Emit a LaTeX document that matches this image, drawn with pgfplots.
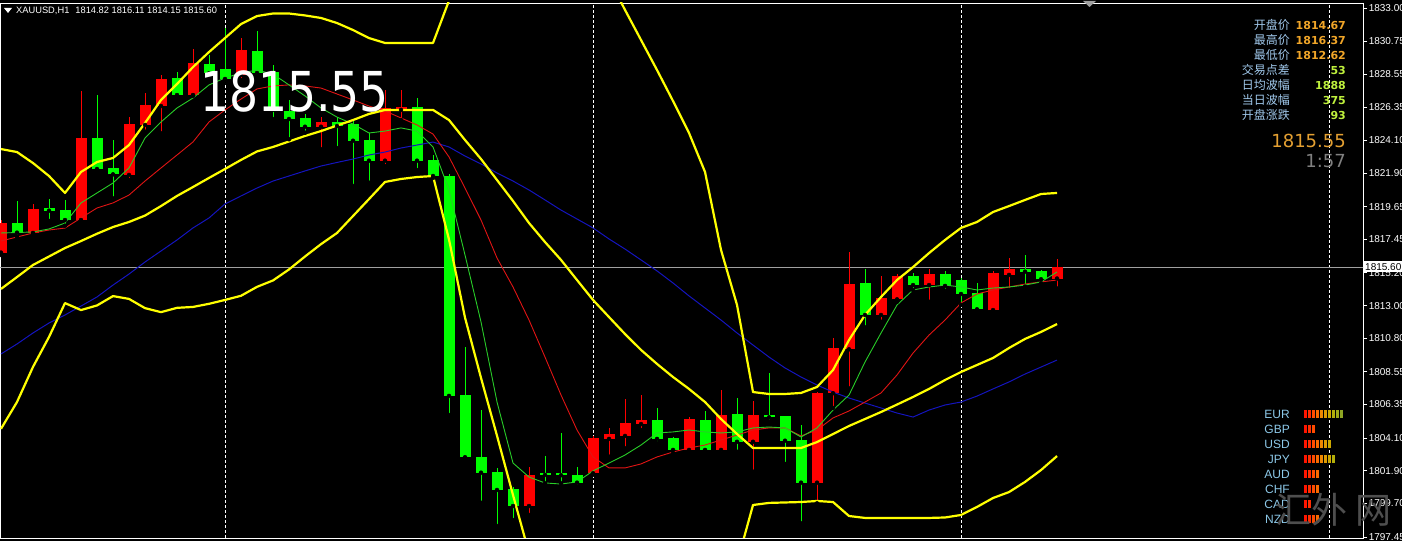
\documentclass[border=0pt]{standalone}
\usepackage{pgfplots}
\pgfplotsset{compat=1.18}
\usepackage{pgfplotstable}
\usepackage{graphicx}
\usepackage{fontspec}
\setmainfont{Liberation Sans}
\newfontfamily\dejavu{DejaVu Sans}
\newfontfamily\cjk{Noto Sans CJK SC}

\definecolor{bbyellow}{RGB}{255,255,0}
\definecolor{maBlue}{RGB}{20,20,190}
\definecolor{maRed}{RGB}{225,20,20}
\definecolor{maGreen}{RGB}{40,205,40}
\definecolor{bullred}{RGB}{255,0,0}
\definecolor{beargreen}{RGB}{0,255,0}
\definecolor{bidgray}{RGB}{160,160,160}
\definecolor{lblblue}{RGB}{160,200,235}
\definecolor{valorange}{RGB}{240,165,40}
\definecolor{valgreen}{RGB}{190,240,60}
\definecolor{bigorange}{RGB}{228,160,50}
\definecolor{clockgray}{RGB}{128,128,128}
\definecolor{ccylabel}{RGB}{140,200,232}
\definecolor{wmgray}{RGB}{78,78,78}

% segment of the currency strength meter
\pgfdeclareplotmark{segbar}{%
  \pgfpathrectangle{\pgfpoint{-1.25pt}{-4pt}}{\pgfpoint{2.5pt}{8pt}}%
  \pgfusepathqfill}

% XAUUSD H1 candles: index, open, high, low, close
\pgfplotstableread{
i  o       h       l       c
0  1816.56 1818.75 1816.40 1818.57
2  1817.88 1819.81 1817.86 1819.49
5  1818.75 1827.42 1818.70 1824.24
8  1821.78 1825.70 1821.44 1825.20
9  1825.14 1827.31 1824.69 1826.48
10 1826.41 1828.50 1824.58 1828.23
12 1827.15 1830.24 1827.10 1829.28
15 1828.50 1830.96 1828.16 1830.18
20 1825.02 1825.70 1823.50 1825.36
24 1822.74 1827.49 1822.38 1826.26
25 1826.15 1827.49 1825.47 1826.37
33 1799.53 1802.17 1798.93 1801.62
37 1801.73 1804.24 1801.62 1804.08
38 1804.04 1804.77 1802.85 1804.37
39 1804.24 1806.72 1803.41 1805.13
40 1805.04 1806.99 1804.64 1805.31
43 1803.30 1805.53 1803.11 1805.36
45 1803.30 1807.33 1803.07 1805.65
47 1803.85 1806.61 1801.84 1805.65
51 1801.10 1807.20 1799.71 1807.15
52 1807.11 1810.84 1806.12 1810.17
53 1810.06 1816.62 1807.44 1814.45
55 1812.37 1814.99 1811.92 1813.53
56 1813.42 1815.12 1813.26 1814.99
58 1814.38 1815.44 1813.26 1815.12
62 1812.70 1815.33 1812.59 1815.21
63 1815.06 1816.18 1814.05 1815.44
66 1814.82 1816.11 1814.15 1815.60
}\bull

\pgfplotstableread{
i  o       h       l       c
1  1818.57 1820.03 1817.63 1817.90
3  1819.54 1820.16 1818.69 1819.38
4  1819.42 1820.10 1818.37 1818.75
6  1824.24 1827.15 1822.00 1822.18
7  1822.27 1824.13 1820.21 1821.82
11 1828.28 1828.72 1827.04 1827.15
13 1829.24 1829.84 1828.50 1828.61
14 1828.90 1831.66 1828.03 1828.23
16 1830.11 1831.47 1828.43 1828.63
17 1828.70 1829.17 1825.54 1826.15
18 1826.10 1826.82 1824.18 1825.54
19 1825.59 1825.88 1824.62 1825.02
21 1825.36 1825.70 1823.59 1825.07
22 1825.20 1825.47 1821.04 1824.08
23 1824.13 1824.60 1821.26 1822.74
26 1826.35 1826.93 1822.11 1822.74
27 1822.79 1823.12 1821.58 1821.71
28 1821.71 1821.84 1805.65 1806.93
29 1806.99 1810.24 1802.76 1802.81
30 1802.85 1805.98 1799.75 1801.77
31 1801.84 1802.09 1798.19 1800.61
32 1800.67 1800.83 1798.59 1799.53
34 1801.73 1802.89 1801.06 1801.62
35 1801.73 1804.46 1801.06 1801.60
36 1801.62 1802.17 1800.83 1801.10
41 1805.31 1806.10 1803.75 1804.04
42 1804.08 1804.17 1803.07 1803.30
44 1805.31 1805.92 1803.23 1803.30
46 1805.72 1806.77 1803.18 1803.85
48 1805.65 1808.45 1805.20 1805.49
49 1805.58 1805.60 1802.36 1803.92
50 1803.97 1804.98 1798.37 1801.10
54 1814.54 1815.44 1811.54 1812.37
57 1814.99 1815.21 1814.05 1814.38
59 1815.12 1815.35 1814.00 1814.32
60 1814.72 1814.85 1813.04 1813.78
61 1813.87 1814.50 1812.66 1812.75
64 1815.44 1816.40 1814.27 1815.28
65 1815.33 1815.39 1814.50 1814.77
}\bear

% Bollinger bands: upper, middle, lower
\pgfplotstableread{
i  up      mid     lo
0  1823.52 1814.12 1804.72
1  1823.32 1814.92 1806.52
2  1822.58 1815.73 1808.88
3  1821.71 1816.30 1810.89
4  1820.57 1816.87 1813.17
5  1821.98 1817.34 1812.70
6  1822.65 1817.83 1813.01
7  1822.92 1818.28 1813.64
8  1823.79 1818.62 1813.45
9  1825.27 1819.05 1812.83
10 1826.82 1819.69 1812.56
11 1827.89 1820.37 1812.85
12 1829.03 1820.97 1812.91
13 1830.04 1821.58 1813.12
14 1830.98 1822.18 1813.38
15 1831.92 1822.79 1813.66
16 1832.46 1823.36 1814.26
17 1832.63 1823.66 1814.69
18 1832.63 1824.03 1815.43
19 1832.50 1824.40 1816.30
20 1832.33 1824.73 1817.13
21 1831.99 1825.10 1817.88
22 1831.52 1825.47 1819.02
23 1830.98 1825.88 1820.16
24 1830.65 1826.15 1821.31
25 1830.65 1826.15 1821.51
26 1830.65 1826.15 1821.64
27 1830.65 1826.15 1821.71
28 1833.50 1825.47 1817.44
29 1836.07 1824.13 1812.19
30 1837.56 1822.85 1808.14
31 1838.63 1821.44 1804.25
32 1839.79 1820.03 1800.27
33 1840.73 1818.55 1796.37
34 1839.77 1817.27 1794.77
35 1838.57 1816.07 1793.57
36 1837.22 1814.72 1792.22
37 1835.88 1813.38 1790.88
38 1834.95 1812.23 1789.51
39 1832.87 1811.09 1789.31
40 1830.85 1810.02 1789.19
41 1828.83 1809.08 1789.33
42 1826.75 1808.20 1789.65
43 1824.60 1807.40 1790.20
44 1821.98 1806.52 1791.06
45 1816.74 1805.38 1794.02
46 1813.04 1804.37 1795.70
47 1807.19 1803.43 1799.60
48 1807.06 1803.43 1799.74
49 1807.06 1803.43 1799.77
50 1807.13 1803.43 1799.80
51 1807.53 1803.83 1799.87
52 1808.67 1804.37 1799.80
53 1810.69 1804.91 1798.86
54 1812.37 1805.38 1798.73
55 1813.58 1805.85 1798.73
56 1814.72 1806.35 1798.73
57 1815.59 1806.86 1798.73
58 1816.53 1807.40 1798.73
59 1817.41 1808.00 1798.76
60 1818.22 1808.54 1798.93
61 1818.62 1809.01 1799.47
62 1819.29 1809.48 1800.07
63 1819.69 1810.15 1800.47
64 1820.10 1810.76 1801.15
65 1820.50 1811.23 1801.95
66 1820.57 1811.76 1802.89
}\bands

% moving averages: slow (blue), medium (red), fast (green)
\pgfplotstableread{
i  blue    red     green
0  1809.75 1817.34 1817.88
1  1810.42 1817.61 1817.91
2  1811.16 1817.88 1817.95
3  1811.83 1818.08 1818.15
4  1812.37 1818.21 1818.55
5  1812.97 1818.89 1819.90
6  1813.58 1819.56 1820.57
7  1814.38 1819.90 1821.24
8  1815.12 1820.43 1822.25
9  1815.93 1821.37 1824.26
10 1816.67 1822.25 1825.34
11 1817.41 1823.12 1826.28
12 1818.22 1824.00 1826.95
13 1818.89 1825.34 1827.83
14 1819.83 1826.15 1828.30
15 1820.37 1826.88 1828.63
16 1820.90 1827.56 1828.83
17 1821.37 1827.76 1828.56
18 1821.71 1827.83 1827.83
19 1822.05 1827.76 1827.09
20 1822.38 1827.62 1826.28
21 1822.62 1827.22 1825.67
22 1822.85 1826.82 1825.20
23 1823.12 1826.41 1824.60
24 1823.32 1826.08 1824.73
25 1823.59 1825.61 1824.94
26 1823.79 1825.14 1824.73
27 1823.99 1824.53 1823.66
28 1823.66 1822.99 1820.77
29 1823.05 1820.90 1816.40
30 1822.52 1818.75 1811.90
31 1821.91 1816.20 1806.52
32 1821.37 1814.25 1802.42
33 1820.77 1812.03 1801.48
34 1820.10 1809.54 1801.08
35 1819.42 1806.99 1801.01
36 1818.82 1804.64 1801.15
37 1818.22 1802.83 1801.89
38 1817.48 1802.09 1802.42
39 1816.80 1802.09 1802.96
40 1816.07 1802.36 1803.63
41 1815.33 1802.83 1804.44
42 1814.52 1803.16 1804.51
43 1813.65 1803.43 1804.64
44 1812.84 1803.63 1804.51
45 1812.03 1803.97 1804.44
46 1811.16 1804.30 1804.51
47 1810.35 1804.64 1804.78
48 1809.54 1804.78 1804.84
49 1808.81 1804.78 1804.78
50 1808.20 1804.24 1804.17
51 1807.66 1804.64 1804.78
52 1807.19 1805.45 1805.98
53 1806.79 1805.92 1806.99
54 1806.45 1806.52 1809.21
55 1806.12 1807.13 1811.16
56 1805.78 1808.34 1813.04
57 1805.51 1809.81 1814.05
58 1805.98 1811.02 1814.25
59 1806.32 1812.03 1814.38
60 1806.52 1813.18 1814.25
61 1806.92 1813.78 1814.05
62 1807.40 1814.05 1814.18
63 1807.87 1814.25 1814.25
64 1808.40 1814.45 1814.38
65 1808.87 1814.59 1814.59
66 1809.34 1814.72 1815.26
}\mas

\begin{document}
\begin{tikzpicture}
\path[use as bounding box] (0pt,0pt) rectangle (1402pt,541pt);
\fill[black] (0pt,0pt) rectangle (1402pt,541pt);

\begin{axis}[
  at={(0pt,3pt)}, anchor=south west,
  scale only axis, width=1363pt, height=535pt,
  xmin=-0.0625, xmax=85.125,
  ymin=1797.382, ymax=1833.336,
  axis line style={white, line width=0.8pt},
  tick align=outside,
  ytick pos=right, yticklabel pos=right,
  ytick={1797.45,1799.70,1801.90,1804.10,1806.35,1808.55,1810.80,1813.00,1815.20,1817.45,1819.65,1821.90,1824.10,1826.35,1828.55,1830.75,1833.00},
  yticklabels={1797.45,1799.70,1801.90,1804.10,1806.35,1808.55,1810.80,1813.00,1815.20,1817.45,1819.65,1821.90,1824.10,1826.35,1828.55,1830.75,1833.00},
  major tick length=4pt,
  y tick style={white, line width=0.8pt},
  yticklabel style={text=white, font=\fontsize{10}{12}\selectfont, inner sep=1.5pt},
  xtick={14,37,60,83}, xticklabels={}, x tick style={draw=none},
  xmajorgrids,
  x grid style={white, line width=0.9pt, dash pattern=on 3pt off 2pt},
  error bars/error mark=none,
]
% bid line
\addplot[bidgray, line width=0.8pt, forget plot] coordinates {(-1,1815.60) (90,1815.60)};

% wicks
\addplot[only marks, mark=none, error bars/.cd, y dir=plus, y explicit,
  error bar style={bullred, line width=1pt}]
  table[x=i, y=l, y error expr=\thisrow{h}-\thisrow{l}] {\bull};
\addplot[only marks, mark=none, error bars/.cd, y dir=plus, y explicit,
  error bar style={beargreen, line width=1pt}]
  table[x=i, y=l, y error expr=\thisrow{h}-\thisrow{l}] {\bear};
% bodies
\addplot[only marks, mark=none, error bars/.cd, y dir=plus, y explicit,
  error bar style={bullred, line width=11pt}]
  table[x=i, y=o, y error expr=\thisrow{c}-\thisrow{o}] {\bull};
\addplot[only marks, mark=none, error bars/.cd, y dir=plus, y explicit,
  error bar style={beargreen, line width=11pt}]
  table[x=i, y=c, y error expr=\thisrow{o}-\thisrow{c}] {\bear};

% indicators
\addplot[maBlue, line width=1pt] table[x=i, y=blue] {\mas};
\addplot[maRed, line width=0.9pt] table[x=i, y=red] {\mas};
\addplot[maGreen, line width=0.9pt] table[x=i, y=green] {\mas};
\addplot[bbyellow, line width=2.2pt, line join=round] table[x=i, y=up] {\bands};
\addplot[bbyellow, line width=2.2pt, line join=round] table[x=i, y=mid] {\bands};
\addplot[bbyellow, line width=2.2pt, line join=round] table[x=i, y=lo] {\bands};
\end{axis}

% currency strength meter
\begin{axis}[
  at={(1303.25pt,14.5pt)}, anchor=south west,
  scale only axis, width=40pt, height=120pt,
  xmin=0.5, xmax=10.5, ymin=-0.5, ymax=7.5, y dir=reverse,
  hide axis, clip=false,
  colormap={strength}{rgb255=(255,20,0) rgb255=(255,45,0) rgb255=(255,75,0) rgb255=(250,105,0) rgb255=(238,135,0) rgb255=(222,155,0) rgb255=(205,168,0) rgb255=(178,174,10) rgb255=(158,170,25) rgb255=(142,165,35)},
  point meta min=1, point meta max=10,
]
\addplot[scatter, only marks, mark=segbar, point meta=x,
  scatter/use mapped color={draw=none, fill=mapped color}] coordinates {
  (1,0) (2,0) (3,0) (4,0) (5,0) (6,0) (7,0) (8,0) (9,0) (10,0)
  (1,1) (2,1) (3,1)
  (1,2) (2,2) (3,2) (4,2) (5,2) (6,2) (7,2)
  (1,3) (2,3) (3,3) (4,3) (5,3) (6,3) (7,3) (8,3)
  (1,4) (2,4) (3,4) (4,4)
  (1,5) (2,5) (3,5) (4,5)
  (1,6) (2,6)
  (1,7) (2,7) (3,7) (4,7)
};
\end{axis}

% header
\fill[white] (4pt,533pt) -- (12pt,533pt) -- (8pt,528pt) -- cycle;
\node[anchor=base west, inner sep=0pt, text=white, font=\fontsize{9.3}{11}\selectfont]
  at (16pt,527pt) {XAUUSD,H1\hspace{6pt}1814.82 1816.11 1814.15 1815.60};
\fill[bidgray] (1083pt,540pt) -- (1096pt,540pt) -- (1089.5pt,534pt) -- cycle;

% large bid price
\node[anchor=base west, inner sep=0pt, text=white, font=\dejavu\fontsize{55}{60}\selectfont]
  at (200pt,429pt) {\scalebox{0.83}[1]{1815.55}};

% quote panel
\begin{scope}[every node/.style={anchor=base east, inner sep=0pt}]
\node[text=lblblue, font=\cjk\fontsize{12}{14}\selectfont] at (1290pt,511.5pt) {开盘价};
\node[text=lblblue, font=\cjk\fontsize{12}{14}\selectfont] at (1290pt,496.5pt) {最高价};
\node[text=lblblue, font=\cjk\fontsize{12}{14}\selectfont] at (1290pt,481pt) {最低价};
\node[text=lblblue, font=\cjk\fontsize{12}{14}\selectfont] at (1290pt,466pt) {交易点差};
\node[text=lblblue, font=\cjk\fontsize{12}{14}\selectfont] at (1290pt,451pt) {日均波幅};
\node[text=lblblue, font=\cjk\fontsize{12}{14}\selectfont] at (1290pt,436pt) {当日波幅};
\node[text=lblblue, font=\cjk\fontsize{12}{14}\selectfont] at (1290pt,421pt) {开盘涨跌};
\node[text=valorange, font=\dejavu\bfseries\fontsize{11}{13}\selectfont] at (1346pt,511.5pt) {1814.67};
\node[text=valorange, font=\dejavu\bfseries\fontsize{11}{13}\selectfont] at (1346pt,496.5pt) {1816.37};
\node[text=valorange, font=\dejavu\bfseries\fontsize{11}{13}\selectfont] at (1346pt,481pt) {1812.62};
\node[text=valgreen, font=\dejavu\bfseries\fontsize{11}{13}\selectfont] at (1346pt,466pt) {53};
\node[text=valgreen, font=\dejavu\bfseries\fontsize{11}{13}\selectfont] at (1346pt,451pt) {1888};
\node[text=valgreen, font=\dejavu\bfseries\fontsize{11}{13}\selectfont] at (1346pt,436pt) {375};
\node[text=valgreen, font=\dejavu\bfseries\fontsize{11}{13}\selectfont] at (1346pt,421pt) {93};
\node[text=bigorange, font=\dejavu\fontsize{18}{20}\selectfont] at (1346pt,393pt) {1815.55};
\node[text=clockgray, font=\dejavu\fontsize{18}{20}\selectfont] at (1346pt,373pt) {1:57};
% currency names
\node[text=ccylabel, font=\fontsize{12}{14}\selectfont] at (1290pt,123pt) {EUR};
\node[text=ccylabel, font=\fontsize{12}{14}\selectfont] at (1290pt,108pt) {GBP};
\node[text=ccylabel, font=\fontsize{12}{14}\selectfont] at (1290pt,93pt) {USD};
\node[text=ccylabel, font=\fontsize{12}{14}\selectfont] at (1290pt,78pt) {JPY};
\node[text=ccylabel, font=\fontsize{12}{14}\selectfont] at (1290pt,63pt) {AUD};
\node[text=ccylabel, font=\fontsize{12}{14}\selectfont] at (1290pt,48pt) {CHF};
\node[text=ccylabel, font=\fontsize{12}{14}\selectfont] at (1290pt,33pt) {CAD};
\node[text=ccylabel, font=\fontsize{12}{14}\selectfont] at (1290pt,18pt) {NZD};
\end{scope}

% current price tag on the price scale
\node[anchor=west, fill=white, text=black, inner sep=1pt, minimum height=11pt,
  font=\fontsize{10}{12}\selectfont] at (1364pt,274pt) {1815.60};

% watermark
\begin{scope}[every node/.style={anchor=base, inner sep=0pt, text=wmgray, font=\cjk\fontsize{36}{40}\selectfont}]
\node at (1293pt,18pt) {汇};
\node at (1329pt,18pt) {外};
\node at (1373pt,18pt) {网};
\end{scope}
\end{tikzpicture}
\end{document}
